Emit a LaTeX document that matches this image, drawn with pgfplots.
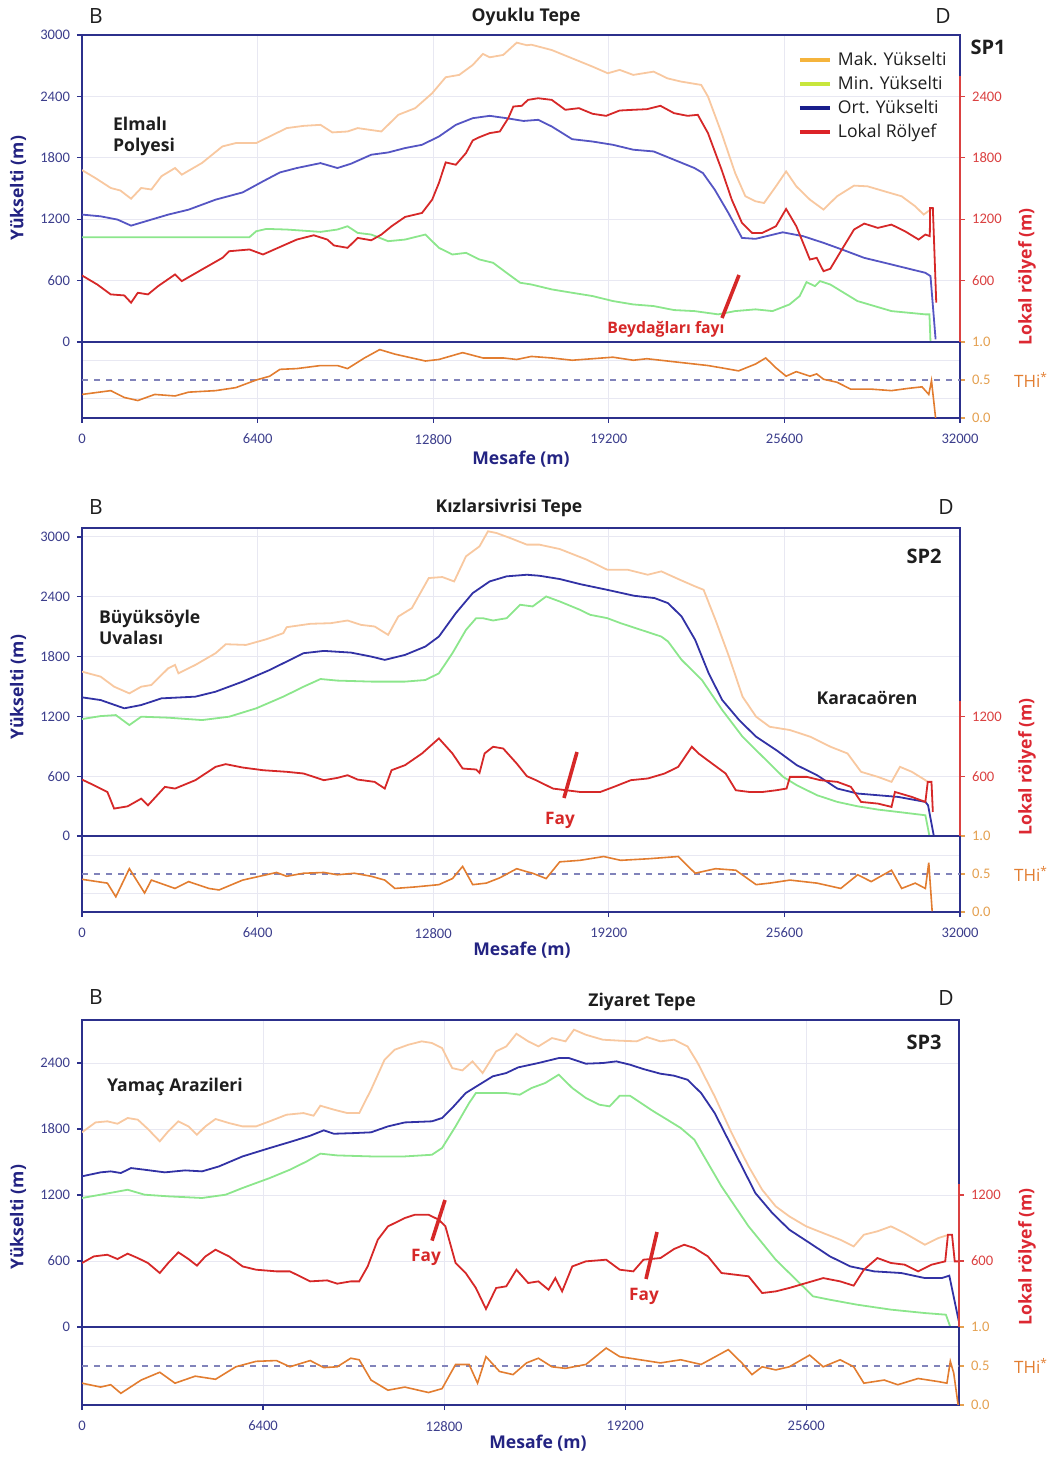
\documentclass[border=0pt]{standalone}
\usepackage{pgfplots}
\pgfplotsset{compat=1.18}
\usepackage{fontspec}
\setmainfont{Open Sans}
\newfontfamily\tickfont{Carlito}
\definecolor{framec}{RGB}{44,48,140}
\definecolor{ticklab}{RGB}{60,62,140}
\definecolor{makc}{RGB}{248,200,160}
\definecolor{minc}{RGB}{140,230,140}
\definecolor{ortA}{RGB}{85,85,195}
\definecolor{ortB}{RGB}{50,50,165}
\definecolor{lokc}{RGB}{214,40,40}
\definecolor{thic}{RGB}{226,125,48}
\definecolor{gridc}{RGB}{232,232,242}
\definecolor{legmak}{RGB}{245,180,60}
\definecolor{legmin}{RGB}{200,230,60}
\definecolor{legort}{RGB}{25,30,140}
\definecolor{leglok}{RGB}{220,35,40}
\definecolor{reltick}{RGB}{218,65,65}
\definecolor{thitick}{RGB}{228,160,80}
\definecolor{labblue}{RGB}{35,35,130}
\definecolor{labred}{RGB}{220,40,50}
\definecolor{txt}{RGB}{30,30,30}
\pgfplotsset{
  base/.style={scale only axis, axis line style={framec, line width=0.8pt},
    tick style={framec, line width=0.6pt}, tick align=outside, major tick length=2.5pt,
    ticklabel style={font=\tickfont\fontsize{7.3}{8}\selectfont, text=ticklab},
    scaled ticks=false,
    /pgf/number format/assume math mode=true, /pgf/number format/1000 sep={},
    grid style={gridc, line width=0.5pt}},
  mainax/.style={base, anchor=north west, xtick={6400,12800,19200,25600}, xticklabels={},
    xtick style={draw=none}, xmajorgrids, ymajorgrids, ytick pos=left, ymin=0, xmin=0},
  thiax/.style={base, anchor=north west, xmin=0, ymin=0, ymax=1, xtick pos=bottom, xmajorgrids,
    ytick={0,0.5,1}, yticklabels={0.0,0.5,1.0}, ytick pos=right, yticklabel pos=right,
    y tick label style={text=thitick}, ytick style={thitick},
    minor ytick={0.25,0.75}, yminorgrids, minor tick length=0pt,
    xticklabel style={yshift=-2pt}},
  relax/.style={scale only axis, anchor=south east, xmin=0, ymin=0, axis x line=none, axis y line*=right,
    y axis line style={reltick, line width=0.8pt}, ytick style={reltick, line width=0.6pt},
    tick align=outside, major tick length=2.5pt, scaled ticks=false,
    yticklabel style={font=\tickfont\fontsize{7.3}{8}\selectfont, text=reltick},
    /pgf/number format/assume math mode=true, /pgf/number format/1000 sep={}},
  mak/.style={makc, line width=0.9pt, forget plot},
  mn/.style={minc, line width=0.9pt, forget plot},
  lok/.style={lokc, line width=0.9pt, forget plot},
  thi/.style={thic, line width=0.8pt, forget plot},
  ref/.style={framec!60!white, dashed, line width=0.6pt, forget plot},
}
\begin{document}
\begin{tikzpicture}
\path[use as bounding box] (0,0) rectangle (525.5pt,-729.5pt);
% ================= SP1 =================
\begin{axis}[mainax, at={(41pt,-17.5pt)}, width=439pt, height=153.5pt, xmax=32000, ymax=3000,
  ytick={0,600,...,3000},
  legend style={at={(0.815,0.958)}, anchor=north west, draw=none, fill=none,
    font=\fontsize{8.8}{9}\selectfont, text=txt, row sep=-0.3pt, inner sep=0pt,
    nodes={inner xsep=3pt}},
  legend cell align=left,
  legend image code/.code={\draw[#1, line width=2pt] (0pt,0pt) -- (15pt,0pt);}]
\addlegendimage{legmak}\addlegendentry{Mak. Yükselti}
\addlegendimage{legmin}\addlegendentry{Min. Yükselti}
\addlegendimage{legort}\addlegendentry{Ort. Yükselti}
\addlegendimage{leglok}\addlegendentry{Lokal Rölyef}
\addplot[mak] coordinates {(0,1680)(500,1600)(1048,1505)(1400,1480)(1788,1400)(2158,1505)(2528,1490)(2897,1620)(3390,1700)(3637,1635)(4377,1750)(5117,1911)(5610,1944)(6350,1944)(6843,2009)(7460,2090)(8076,2112)(8693,2122)(9124,2048)(9679,2057)(10049,2090)(10912,2057)(11528,2220)(12145,2285)(12762,2431)(13255,2587)(13748,2610)(14241,2707)(14611,2815)(14858,2782)(15351,2805)(15844,2925)(16214,2900)(16377,2905)(17120,2853)(17863,2772)(18606,2691)(19163,2626)(19596,2659)(20091,2610)(20834,2642)(21329,2577)(21825,2545)(22567,2512)(22815,2398)(23310,2041)(23805,1651)(24177,1424)(24548,1375)(24858,1358)(25291,1521)(25662,1667)(26034,1521)(26529,1391)(27024,1294)(27519,1424)(28138,1528)(28633,1521)(29252,1472)(29871,1424)(30367,1326)(30676,1245)(30924,1294)};
\addplot[mn] coordinates {(0,1024)(6100,1024)(6350,1082)(6720,1105)(7460,1099)(8693,1076)(9310,1099)(9679,1131)(10049,1066)(10542,1050)(11158,985)(11775,1001)(12515,1050)(13008,920)(13501,855)(13995,871)(14488,806)(14981,774)(15474,676)(15967,579)(16377,562)(17120,514)(17863,481)(18606,449)(19349,400)(20091,367)(20834,351)(21577,312)(22320,302)(23186,270)(23805,302)(24548,319)(25167,302)(25786,367)(26158,449)(26405,585)(26715,546)(26900,595)(27272,562)(27767,481)(28262,400)(28881,351)(29500,302)(30119,286)(30738,270)(30886,270)(30924,0)};
\addplot[ortA, line width=0.9pt, forget plot] coordinates {(0,1245)(678,1228)(1295,1196)(1788,1137)(2528,1196)(3144,1245)(3884,1293)(4870,1391)(5857,1462)(6597,1570)(7213,1657)(7830,1700)(8693,1748)(9310,1700)(9803,1742)(10542,1830)(11158,1852)(11775,1895)(12392,1927)(13008,2008)(13625,2122)(14241,2187)(14858,2210)(15474,2187)(16090,2160)(16625,2171)(17120,2106)(17863,1982)(18606,1959)(19349,1927)(20091,1879)(20834,1862)(21577,1781)(22320,1700)(22629,1651)(23062,1488)(23558,1261)(24053,1017)(24548,1008)(25539,1072)(26282,1034)(27024,969)(27767,897)(28510,822)(29252,774)(29995,725)(30738,676)(30924,644)(31110,26)};
\addplot[lok] coordinates {(0,650)(555,562)(1048,465)(1541,455)(1788,384)(2035,481)(2405,465)(2774,546)(3391,660)(3637,595)(4377,709)(5117,822)(5364,887)(6104,904)(6597,855)(7337,943)(7830,1001)(8446,1043)(8940,1001)(9186,943)(9679,920)(10049,1017)(10542,994)(10912,1050)(11282,1131)(11775,1222)(12392,1261)(12762,1391)(13008,1554)(13255,1755)(13625,1732)(13995,1846)(14241,1970)(14488,2002)(14858,2041)(15228,2057)(15536,2187)(15721,2301)(16028,2308)(16254,2366)(16625,2382)(17120,2366)(17615,2269)(18110,2285)(18606,2230)(19101,2210)(19596,2262)(20091,2269)(20587,2275)(21082,2308)(21577,2236)(22072,2210)(22443,2220)(22815,2041)(23310,1684)(23681,1391)(24053,1164)(24424,1066)(24796,1066)(25291,1131)(25662,1300)(26034,1131)(26529,806)(26777,822)(27024,692)(27272,715)(27767,936)(28138,1099)(28510,1157)(29005,1115)(29500,1147)(29995,1082)(30490,1001)(30738,1050)(30899,1034)(30911,1310)(31010,1310)(31134,384)};
\end{axis}
\begin{axis}[thiax, at={(41pt,-171pt)}, width=439pt, height=38pt, xmax=32000, xtick={0,6400,...,32000}]
\addplot[ref] coordinates {(0,0.5)(32000,0.5)};
\addplot[thi] coordinates {(0,0.31)(1048,0.36)(1541,0.27)(2035,0.23)(2651,0.31)(3391,0.29)(3884,0.34)(4870,0.36)(5610,0.40)(6350,0.50)(6843,0.55)(7213,0.64)(7830,0.65)(8693,0.69)(9310,0.69)(9679,0.65)(10296,0.79)(10851,0.90)(11405,0.84)(12022,0.79)(12515,0.75)(13008,0.77)(13872,0.86)(14611,0.79)(15351,0.79)(15844,0.77)(16377,0.81)(17120,0.79)(17863,0.76)(18606,0.78)(19349,0.80)(20091,0.76)(20587,0.78)(21329,0.75)(22072,0.72)(22815,0.69)(23310,0.66)(23929,0.62)(24548,0.71)(24919,0.79)(25291,0.66)(25662,0.55)(26034,0.61)(26529,0.55)(26777,0.58)(27024,0.51)(27519,0.47)(28014,0.38)(28757,0.38)(29500,0.36)(30119,0.39)(30614,0.41)(30862,0.31)(30961,0.49)(31110,0.0)};
\end{axis}
\begin{axis}[relax, at={(480pt,-171pt)}, width=439pt, height=133pt, xmax=32000, ymax=2600, ytick={600,1200,1800,2400}]
\end{axis}
% ================= SP2 =================
\begin{axis}[mainax, at={(41pt,-264pt)}, width=439pt, height=154pt, xmax=32000, ymax=3090, ytick={0,600,...,3000}]
\addplot[mak] coordinates {(0,1649)(678,1599)(1171,1498)(1726,1431)(2158,1498)(2528,1515)(3144,1683)(3391,1716)(3514,1632)(4131,1716)(4870,1834)(5240,1924)(5980,1917)(6720,1974)(7337,2035)(7460,2095)(8323,2129)(9063,2135)(9679,2162)(10172,2118)(10665,2102)(11158,2018)(11528,2202)(12022,2286)(12639,2588)(13132,2598)(13563,2554)(13995,2806)(14488,2906)(14796,3057)(15104,3040)(15597,2990)(16214,2923)(16670,2923)(17411,2879)(18398,2772)(19138,2672)(19879,2672)(20619,2621)(21113,2655)(21730,2578)(22347,2504)(22655,2470)(23087,2169)(23581,1800)(24074,1398)(24568,1197)(25062,1096)(25802,1063)(26542,996)(27283,895)(27900,828)(28393,644)(29010,593)(29504,543)(29812,694)(30244,644)(30738,560)(30861,533)};
\addplot[mn] coordinates {(0,1173)(678,1203)(1233,1213)(1726,1113)(2158,1197)(3144,1187)(4377,1163)(5364,1197)(6350,1281)(7337,1398)(8076,1498)(8693,1575)(9310,1559)(10542,1549)(11775,1549)(12515,1565)(13008,1632)(13501,1834)(13995,2068)(14364,2185)(14611,2185)(14981,2162)(15474,2185)(15967,2320)(16424,2303)(16917,2403)(17411,2353)(18151,2269)(18521,2219)(19138,2186)(19632,2135)(20372,2068)(21113,2001)(21360,1951)(21853,1767)(22594,1565)(23334,1264)(24074,996)(24815,794)(25555,593)(26049,510)(26789,409)(27530,342)(28270,298)(29010,265)(29751,241)(30738,208)(30886,0)};
\addplot[ortB, line width=0.9pt, forget plot] coordinates {(0,1391)(678,1364)(1541,1281)(2158,1314)(2898,1381)(4131,1398)(4870,1448)(5857,1549)(6843,1666)(7583,1767)(8076,1834)(8816,1857)(9803,1840)(10542,1800)(11035,1767)(11775,1817)(12515,1901)(13008,2001)(13625,2236)(14241,2437)(14858,2554)(15474,2605)(16214,2621)(16670,2611)(17411,2578)(18151,2527)(19138,2470)(20125,2410)(20866,2387)(21360,2336)(21853,2202)(22347,1968)(22840,1632)(23334,1364)(23951,1163)(24568,996)(25308,861)(26049,711)(26789,610)(27530,476)(28270,426)(29010,409)(29751,392)(30738,342)(30836,308)(31046,0)};
\addplot[lok] coordinates {(0,566)(431,510)(925,442)(1171,275)(1665,298)(2158,375)(2405,308)(3021,493)(3391,476)(4131,560)(4870,694)(5240,721)(5857,687)(6597,660)(7460,644)(8076,627)(8816,560)(9310,583)(9679,610)(10049,566)(10665,543)(11035,476)(11282,660)(11775,711)(12392,828)(13008,979)(13501,828)(13872,677)(14364,667)(14488,634)(14673,828)(14981,895)(15351,878)(15844,727)(16214,600)(16547,560)(17163,476)(17657,459)(18151,442)(18891,442)(19385,493)(20002,560)(20619,577)(21236,627)(21730,694)(22224,895)(22470,828)(22964,727)(23458,627)(23828,459)(24321,442)(24815,442)(25308,459)(25678,476)(25802,593)(26419,593)(26912,560)(27530,543)(28023,493)(28393,342)(29010,325)(29504,292)(29628,442)(30244,392)(30738,342)(30824,543)(30960,543)(31010,241)};
\end{axis}
\begin{axis}[thiax, at={(41pt,-418pt)}, width=439pt, height=38pt, xmax=32000, xtick={0,6400,...,32000}]
\addplot[ref] coordinates {(0,0.5)(32000,0.5)};
\addplot[thi] coordinates {(0,0.43)(925,0.38)(1233,0.20)(1726,0.57)(2281,0.25)(2528,0.42)(3391,0.31)(3884,0.40)(4624,0.31)(4994,0.29)(5857,0.42)(6350,0.46)(7090,0.52)(7460,0.47)(8076,0.51)(8816,0.52)(9310,0.49)(9926,0.51)(10542,0.47)(11035,0.42)(11405,0.31)(12145,0.33)(13008,0.36)(13501,0.44)(13872,0.60)(14241,0.36)(14734,0.38)(15228,0.45)(15844,0.57)(16214,0.53)(16424,0.51)(16917,0.44)(17411,0.66)(18151,0.68)(19015,0.73)(19632,0.68)(20619,0.70)(21730,0.73)(22347,0.51)(23087,0.57)(23828,0.55)(24568,0.36)(25062,0.38)(25802,0.42)(26789,0.38)(27653,0.31)(28270,0.49)(28763,0.40)(29504,0.55)(29874,0.31)(30368,0.38)(30738,0.31)(30861,0.65)(30985,0.01)};
\end{axis}
\begin{axis}[relax, at={(480pt,-418pt)}, width=439pt, height=67.3pt, xmax=32000, ymax=1350, ytick={600,1200}]
\end{axis}
% ================= SP3 =================
\begin{axis}[mainax, at={(41pt,-510pt)}, width=438.5pt, height=153.5pt, xmax=31000, ymax=2791, ytick={0,600,...,2400}]
\addplot[mak] coordinates {(0,1770)(478,1860)(896,1870)(1255,1848)(1613,1900)(1972,1885)(2330,1800)(2749,1688)(3048,1779)(3406,1870)(3764,1824)(4063,1748)(4362,1824)(4720,1891)(5198,1854)(5676,1824)(6154,1824)(6632,1870)(7230,1930)(7827,1945)(8186,1921)(8425,2012)(8903,1976)(9381,1945)(9799,1945)(10217,2157)(10695,2430)(11054,2521)(11532,2566)(12010,2597)(12368,2582)(12727,2536)(13085,2354)(13444,2333)(13802,2415)(14161,2309)(14639,2506)(14997,2551)(15356,2666)(15772,2597)(16132,2551)(16611,2627)(17091,2597)(17390,2703)(17810,2657)(18409,2612)(19008,2603)(19607,2597)(19967,2636)(20446,2597)(20926,2612)(21405,2551)(21765,2400)(22364,2097)(22963,1764)(23562,1461)(24042,1248)(24521,1097)(25001,1006)(25600,915)(26199,854)(26798,794)(27278,733)(27637,839)(28116,870)(28595,915)(29075,854)(29794,748)(30273,809)(30633,839)};
\addplot[mn] coordinates {(0,1173)(657,1203)(1613,1248)(2211,1203)(3048,1188)(4243,1173)(5079,1203)(5676,1264)(6632,1354)(7349,1430)(7947,1506)(8425,1576)(9022,1560)(10217,1551)(11412,1551)(12368,1566)(12727,1627)(13205,1824)(13683,2036)(13922,2127)(14400,2127)(14997,2127)(15475,2112)(15892,2173)(16372,2218)(16851,2294)(17330,2173)(17810,2082)(18289,2021)(18649,2006)(19008,2103)(19367,2103)(19847,2021)(20206,1960)(20686,1885)(21165,1809)(21645,1703)(22124,1491)(22604,1279)(23083,1097)(23562,915)(24042,764)(24521,612)(25001,491)(25480,370)(25840,279)(26439,248)(27397,203)(28595,158)(29794,127)(30537,112)(30693,0)};
\addplot[ortB, line width=0.9pt, forget plot] coordinates {(0,1370)(657,1406)(1016,1415)(1374,1400)(1733,1445)(2211,1430)(2928,1406)(3645,1424)(4243,1415)(4840,1460)(5676,1551)(6632,1627)(7349,1682)(8066,1739)(8544,1788)(8903,1757)(9620,1763)(10217,1770)(10815,1824)(11412,1860)(12368,1870)(12727,1900)(13085,1991)(13563,2127)(14041,2203)(14519,2279)(14997,2309)(15413,2360)(16132,2400)(16851,2445)(17210,2445)(17810,2394)(18409,2400)(18888,2415)(19367,2385)(19847,2345)(20446,2303)(20926,2285)(21405,2248)(21884,2127)(22364,1945)(22843,1703)(23323,1461)(23802,1218)(24401,1036)(25001,885)(25720,764)(26439,642)(27158,551)(27997,506)(28955,491)(29794,445)(30393,445)(30657,467)(30993,52)};
\addplot[lok] coordinates {(0,582)(418,642)(896,657)(1255,618)(1613,667)(1972,627)(2330,582)(2749,491)(3048,582)(3406,679)(3764,618)(4063,558)(4362,642)(4720,703)(5198,642)(5676,551)(6154,521)(6871,506)(7349,506)(8066,415)(8664,424)(9022,394)(9500,415)(9799,415)(10098,551)(10456,794)(10815,915)(11412,991)(11771,1021)(12249,1021)(12607,976)(12846,915)(13205,582)(13563,491)(13922,355)(14280,164)(14639,355)(14997,370)(15356,521)(15772,400)(16132,415)(16491,339)(16731,445)(16971,324)(17330,551)(17810,597)(18529,612)(19008,521)(19487,506)(19847,612)(20446,627)(20926,709)(21286,748)(21645,718)(22124,642)(22604,491)(23083,476)(23562,461)(24042,309)(24521,324)(25001,355)(25600,400)(26199,445)(26798,415)(27278,376)(27637,521)(28116,627)(28595,582)(29075,567)(29554,506)(30034,567)(30513,597)(30609,839)(30753,839)(30849,597)(30993,597)};
\end{axis}
\begin{axis}[thiax, at={(41pt,-663.5pt)}, width=438.5pt, height=39pt, xmax=31000, xtick={0,6400,...,25600}]
\addplot[ref] coordinates {(0,0.5)(31000,0.5)};
\addplot[thi] coordinates {(0,0.28)(657,0.23)(1016,0.26)(1374,0.15)(2091,0.32)(2749,0.42)(3287,0.28)(4003,0.37)(4720,0.33)(5437,0.49)(6154,0.56)(6871,0.57)(7349,0.49)(8066,0.57)(8544,0.48)(9022,0.49)(9500,0.60)(9799,0.58)(10217,0.32)(10815,0.19)(11412,0.23)(12249,0.16)(12727,0.21)(13205,0.52)(13683,0.52)(13982,0.28)(14280,0.62)(14758,0.43)(15236,0.39)(15714,0.54)(16132,0.60)(16611,0.49)(17091,0.47)(17810,0.52)(18529,0.73)(19008,0.62)(19727,0.58)(20446,0.54)(21165,0.58)(21884,0.52)(22843,0.71)(23323,0.54)(23682,0.39)(24042,0.49)(24521,0.45)(25001,0.49)(25720,0.64)(26199,0.49)(26798,0.58)(27278,0.49)(27637,0.28)(28356,0.32)(28835,0.26)(29554,0.34)(30273,0.30)(30573,0.28)(30693,0.56)(30813,0.41)(30969,0.0)};
\end{axis}
\begin{axis}[relax, at={(479.5pt,-663.5pt)}, width=438.5pt, height=71.5pt, xmax=31000, ymax=1300, ytick={600,1200}]
\end{axis}
% ================= texts =================
\tikzset{bl/.style={font=\bfseries\fontsize{8.8}{10.5}\selectfont, text=txt},
  corner/.style={font=\fontsize{10.5}{11}\selectfont, text=txt},
  axl/.style={font=\bfseries\fontsize{8.8}{10}\selectfont, text=labblue},
  rl/.style={font=\bfseries\fontsize{8.8}{10}\selectfont, text=labred, rotate=90},
  th/.style={font=\fontsize{8.5}{10}\selectfont, text=thic},
  fault/.style={font=\bfseries\fontsize{8.6}{10}\selectfont, text=lokc},
  fbar/.style={lokc, line width=1.8pt}}
% SP1
\node[corner] at (48pt,-8pt) {B};
\node[bl] at (263pt,-8.5pt) {Oyuklu Tepe};
\node[corner] at (471.5pt,-8pt) {D};
\node[font=\bfseries\fontsize{10}{11}\selectfont, text=txt] at (494pt,-23.5pt) {SP1};
\node[bl, anchor=west, align=left] at (53pt,-68pt) {Elmalı\\Polyesi};
\node[fault, font=\bfseries\fontsize{7.9}{9}\selectfont] at (333pt,-164.5pt) {Beydağları fayı};
\draw[fbar] (361pt,-159pt) -- (369.5pt,-137.5pt);
\node[axl, rotate=90] at (9pt,-94pt) {Yükselti (m)};
\node[axl] at (260.5pt,-229.5pt) {Mesafe (m)};
\node[rl] at (513.5pt,-138.5pt) {Lokal rölyef (m)};
\node[th] at (515.5pt,-190pt) {THi\textsuperscript{*}};
% SP2
\node[corner] at (48pt,-253.5pt) {B};
\node[bl] at (254.5pt,-254pt) {Kızlarsivrisi Tepe};
\node[corner] at (473pt,-253.5pt) {D};
\node[font=\bfseries\fontsize{10}{11}\selectfont, text=txt] at (462pt,-278pt) {SP2};
\node[bl, anchor=west, align=left] at (46pt,-313.5pt) {Büyüksöyle\\Uvalası};
\node[bl] at (433.5pt,-349pt) {Karacaören};
\node[fault] at (280pt,-410pt) {Fay};
\draw[fbar] (282pt,-399pt) -- (288.5pt,-376pt);
\node[axl, rotate=90] at (9pt,-343.5pt) {Yükselti (m)};
\node[axl] at (261pt,-475pt) {Mesafe (m)};
\node[rl] at (513.5pt,-383.5pt) {Lokal rölyef (m)};
\node[th] at (515.5pt,-437pt) {THi\textsuperscript{*}};
% SP3
\node[corner] at (48pt,-498.5pt) {B};
\node[bl] at (321pt,-501pt) {Ziyaret Tepe};
\node[corner] at (473pt,-499pt) {D};
\node[font=\bfseries\fontsize{10}{11}\selectfont, text=txt] at (462pt,-521pt) {SP3};
\node[bl, anchor=west] at (50pt,-543.5pt) {Yamaç Arazileri};
\node[fault] at (213pt,-628.5pt) {Fay};
\draw[fbar] (216pt,-620.3pt) -- (222.5pt,-600pt);
\node[fault] at (322pt,-648pt) {Fay};
\draw[fbar] (323pt,-639.5pt) -- (328.5pt,-616pt);
\node[axl, rotate=90] at (9pt,-608.5pt) {Yükselti (m)};
\node[axl] at (269pt,-721.5pt) {Mesafe (m)};
\node[rl] at (513.5pt,-628.5pt) {Lokal rölyef (m)};
\node[th] at (515.5pt,-683pt) {THi\textsuperscript{*}};
\end{tikzpicture}
\end{document}
